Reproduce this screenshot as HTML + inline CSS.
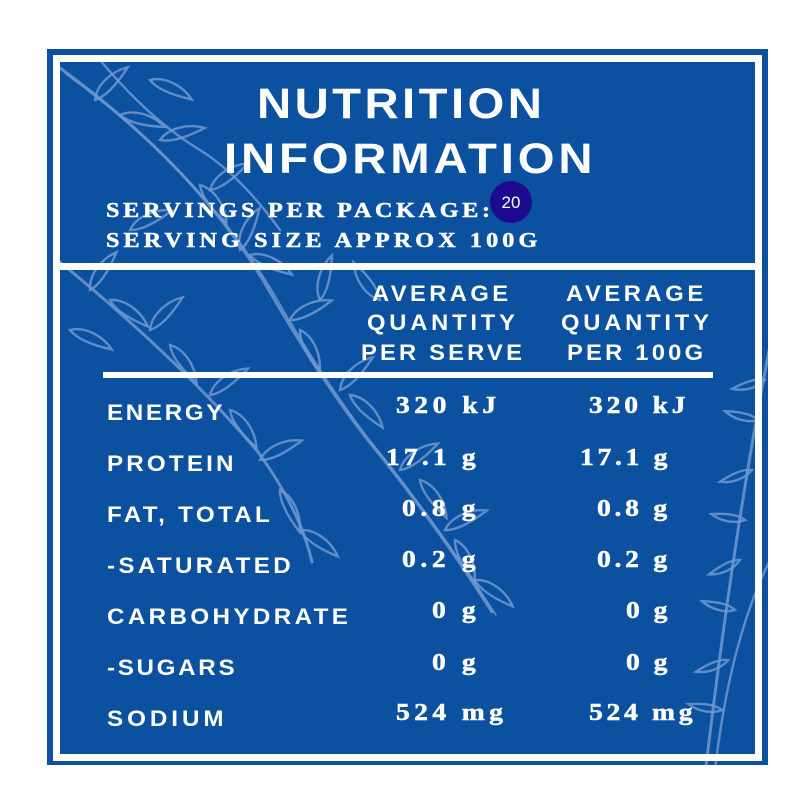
<!DOCTYPE html>
<html><head><meta charset="utf-8"><style>
html,body{margin:0;padding:0;background:#fff;}
svg{display:block;}
.t{font-family:"Liberation Sans",sans-serif;font-weight:bold;fill:#fff;}
.s{font-family:"Liberation Serif",serif;font-weight:bold;fill:#fff;font-size:21px;stroke:#fff;stroke-width:0.5;}
.v{font-family:"Liberation Serif",serif;font-weight:bold;fill:#fff;font-size:24px;stroke:#fff;stroke-width:0.5;}
</style></head><body>
<svg width="800" height="800" viewBox="0 0 800 800" xmlns="http://www.w3.org/2000/svg">
<defs>
<clipPath id="cp"><rect x="47" y="49" width="721" height="716"/></clipPath>
<path id="lf" d="M0 0 C10 -10 30 -12 46 -4 C30 1 12 5 0 0Z" fill="none"/>
<path id="lf2" d="M0 0 C8 -6 22 -8 34 -3 C22 1 9 4 0 0Z" fill="none"/>
</defs>
<rect x="47" y="49" width="721" height="716" fill="#0c50a0"/>
<g clip-path="url(#cp)" stroke="#6e98d0" stroke-opacity="0.85" stroke-width="2.6" fill="none" stroke-linecap="round">
  <path d="M60 68 Q200 170 270 292 Q330 395 380 455 Q440 530 492 612" stroke-width="3"/>
  <path d="M66 74 Q203 174 274 294 Q334 398 384 458 Q444 534 496 615" stroke-width="1.6"/>
  <path d="M55 258 Q180 360 258 452 Q300 510 312 562" stroke-width="3"/>
  <path d="M100 60 Q150 120 200 150 Q240 175 280 230" stroke-width="2.4"/>
  <path d="M775 320 Q735 520 705 775" stroke-width="3"/>
  <path d="M770 560 Q730 640 715 770" stroke-width="2.4"/>
  <g stroke-width="2.4">
    <use href="#lf" transform="translate(95,100) rotate(-40)"/>
    <use href="#lf" transform="translate(120,115) rotate(20)"/>
    <use href="#lf" transform="translate(150,80) rotate(30)"/>
    <use href="#lf" transform="translate(160,140) rotate(-10)"/>
    <use href="#lf" transform="translate(200,185) rotate(60)"/>
    <use href="#lf" transform="translate(210,190) rotate(-30)"/>
    <use href="#lf" transform="translate(240,250) rotate(-60)"/>
    <use href="#lf" transform="translate(250,255) rotate(30)"/>
    <use href="#lf" transform="translate(290,320) rotate(-20)"/>
    <use href="#lf" transform="translate(300,330) rotate(70)"/>
    <use href="#lf" transform="translate(340,390) rotate(-40)"/>
    <use href="#lf" transform="translate(350,395) rotate(50)"/>
    <use href="#lf" transform="translate(400,470) rotate(-30)"/>
    <use href="#lf" transform="translate(420,480) rotate(60)"/>
    <use href="#lf" transform="translate(445,530) rotate(-20)"/>
    <use href="#lf" transform="translate(455,540) rotate(70)"/>
    <use href="#lf" transform="translate(475,580) rotate(40)"/>
    <use href="#lf" transform="translate(90,290) rotate(-50)"/>
    <use href="#lf" transform="translate(110,300) rotate(40)"/>
    <use href="#lf" transform="translate(150,330) rotate(-40)"/>
    <use href="#lf" transform="translate(170,345) rotate(60)"/>
    <use href="#lf" transform="translate(210,395) rotate(-30)"/>
    <use href="#lf" transform="translate(230,410) rotate(60)"/>
    <use href="#lf" transform="translate(260,460) rotate(-20)"/>
    <use href="#lf" transform="translate(280,490) rotate(70)"/>
    <use href="#lf" transform="translate(300,530) rotate(40)"/>
    <use href="#lf" transform="translate(320,300) rotate(-70)"/>
    <use href="#lf" transform="translate(380,300) rotate(-120)"/>
    <use href="#lf" transform="translate(70,330) rotate(30)"/>
    <use href="#lf" transform="translate(130,230) rotate(-20)"/>
    <use href="#lf2" transform="translate(765,380) rotate(170)"/>
    <use href="#lf2" transform="translate(758,420) rotate(200)"/>
    <use href="#lf2" transform="translate(752,470) rotate(165)"/>
    <use href="#lf2" transform="translate(745,520) rotate(195)"/>
    <use href="#lf2" transform="translate(740,560) rotate(160)"/>
    <use href="#lf2" transform="translate(735,610) rotate(200)"/>
    <use href="#lf2" transform="translate(728,660) rotate(165)"/>
    <use href="#lf2" transform="translate(722,710) rotate(195)"/>
  </g>
</g>
<rect x="56.5" y="58.5" width="702" height="699" fill="none" stroke="#fff" stroke-width="7"/>
<rect x="60" y="263" width="695" height="7" fill="#fff"/>
<rect x="103" y="372" width="610" height="6" fill="#fff"/>

<!-- title -->
<text class="t" font-size="43" transform="translate(257,118) scale(1.1,1)" x="0" y="0" textLength="259" lengthAdjust="spacing">NUTRITION</text>
<text class="t" font-size="43" transform="translate(224,173) scale(1.1,1)" x="0" y="0" textLength="335" lengthAdjust="spacing">INFORMATION</text>

<text class="s" transform="translate(106,217) scale(1.15,1)" textLength="334" lengthAdjust="spacing">SERVINGS PER PACKAGE:</text>
<text class="s" transform="translate(106,247) scale(1.15,1)" textLength="375" lengthAdjust="spacing">SERVING SIZE APPROX 100G</text>

<circle cx="511" cy="202" r="21" fill="#1c0b8f"/>
<text x="511" y="208" text-anchor="middle" font-family="Liberation Sans, sans-serif" font-size="17" fill="#fff">20</text>

<!-- headers -->
<g class="t" font-size="22">
  <text transform="translate(372,301) scale(1.08,1)" textLength="126" lengthAdjust="spacing">AVERAGE</text>
  <text transform="translate(367,330) scale(1.08,1)" textLength="137" lengthAdjust="spacing">QUANTITY</text>
  <text transform="translate(361,360) scale(1.08,1)" textLength="149" lengthAdjust="spacing">PER SERVE</text>
  <text transform="translate(566,301) scale(1.08,1)" textLength="127" lengthAdjust="spacing">AVERAGE</text>
  <text transform="translate(561,330) scale(1.08,1)" textLength="137" lengthAdjust="spacing">QUANTITY</text>
  <text transform="translate(567,360) scale(1.08,1)" textLength="126" lengthAdjust="spacing">PER 100G</text>
</g>

<!-- labels -->
<g class="t" font-size="22">
  <text transform="translate(107,420) scale(1.1,1)" textLength="105" lengthAdjust="spacing">ENERGY</text>
  <text transform="translate(107,471) scale(1.1,1)" textLength="115" lengthAdjust="spacing">PROTEIN</text>
  <text transform="translate(107,522) scale(1.1,1)" textLength="148" lengthAdjust="spacing">FAT, TOTAL</text>
  <text transform="translate(107,573) scale(1.1,1)" textLength="167" lengthAdjust="spacing">-SATURATED</text>
  <text transform="translate(107,624) scale(1.1,1)" textLength="219" lengthAdjust="spacing">CARBOHYDRATE</text>
  <text transform="translate(107,675) scale(1.1,1)" textLength="116" lengthAdjust="spacing">-SUGARS</text>
  <text transform="translate(107,726) scale(1.1,1)" textLength="106" lengthAdjust="spacing">SODIUM</text>
</g>

<!-- values -->
<g class="v">
  <text transform="translate(396,413) scale(1.15,1)" textLength="87" lengthAdjust="spacing">320 kJ</text>
  <text transform="translate(386,465) scale(1.15,1)" textLength="78" lengthAdjust="spacing">17.1 g</text>
  <text transform="translate(402,516) scale(1.15,1)" textLength="64" lengthAdjust="spacing">0.8 g</text>
  <text transform="translate(402,567) scale(1.15,1)" textLength="64" lengthAdjust="spacing">0.2 g</text>
  <text transform="translate(432,618) scale(1.15,1)" textLength="38" lengthAdjust="spacing">0 g</text>
  <text transform="translate(432,670) scale(1.15,1)" textLength="38" lengthAdjust="spacing">0 g</text>
  <text transform="translate(396,720) scale(1.15,1)" textLength="93" lengthAdjust="spacing">524 mg</text>

  <text transform="translate(589,413) scale(1.15,1)" textLength="84" lengthAdjust="spacing">320 kJ</text>
  <text transform="translate(580,465) scale(1.15,1)" textLength="76" lengthAdjust="spacing">17.1 g</text>
  <text transform="translate(597,516) scale(1.15,1)" textLength="61" lengthAdjust="spacing">0.8 g</text>
  <text transform="translate(597,567) scale(1.15,1)" textLength="61" lengthAdjust="spacing">0.2 g</text>
  <text transform="translate(626,618) scale(1.15,1)" textLength="36" lengthAdjust="spacing">0 g</text>
  <text transform="translate(626,670) scale(1.15,1)" textLength="36" lengthAdjust="spacing">0 g</text>
  <text transform="translate(589,720) scale(1.15,1)" textLength="90" lengthAdjust="spacing">524 mg</text>
</g>
</svg>
</body></html>
